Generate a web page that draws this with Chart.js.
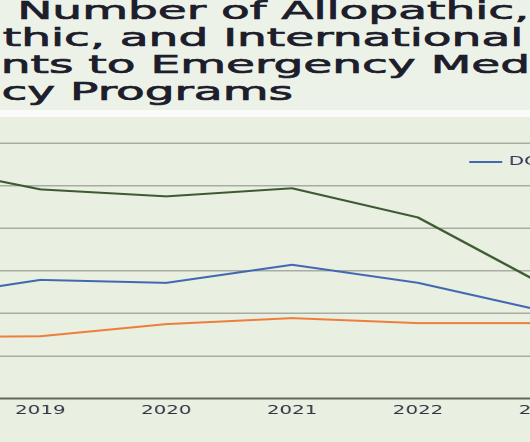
<!DOCTYPE html>
<html>
<head>
<meta charset="utf-8">
<script src="https://cdn.jsdelivr.net/npm/chart.js@4.4.1/dist/chart.umd.min.js"></script>
<style>
  html, body { margin: 0; padding: 0; width: 530px; height: 442px; overflow: hidden; background: #edf2e8; }
  #title { position: absolute; left: 0; top: 0; width: 530px; height: 110px; overflow: hidden; background: #edf2e8; }
  #titleInner { position: absolute; left: 0; top: 0; transform-origin: 0 0; }
  .tl { position: absolute; white-space: nowrap; font-family: "DejaVu Sans"; font-size: 25px; line-height: 27px;
        color: #1d1d2b; -webkit-text-stroke: 0.7px #1d1d2b; }
  #strip { position: absolute; left: 0; top: 110px; width: 530px; height: 7px; background: #fbfcf9; }
  #panel { position: absolute; left: 0; top: 117px; width: 530px; height: 325px; overflow: hidden; background: #e9f0e1; }
  #wrap { position: absolute; top: 0; left: -119.3px; width: 525px; height: 325px; transform: scaleX(1.65); transform-origin: 0 0; }
</style>
</head>
<body>
<div id="title"><div id="titleInner"></div></div>
<div id="strip"></div>
<div id="panel"><div id="wrap"><canvas id="chart"></canvas></div></div>

<script>
// data
const years = [2018, 2019, 2020, 2021, 2022, 2023];
const doApplicants = [935, 1115, 1087, 1257, 1087, 822];
const mdApplicants = [2202, 1965, 1899, 1975, 1701, 1068];
const imgApplicants = [576, 586, 699, 756, 709, 709];
const yTicks = [0, 400, 800, 1200, 1600, 2000, 2400];

// title lines: [part that falls off the left edge, visible part]
const titleLines = [
  ["Figure 1. ", "Number of Allopathic,"],
  ["Osteopa", "thic, and International"],
  ["Applica", "nts to Emergency Medicine"],
  ["Residen", "cy Programs"],
];
const titleStarts = [17, 2, 1, 2];

// build the title, stretched like the reference
const inner = document.getElementById("titleInner");
const spans = titleLines.map(([pre, rest], i) => {
  const d = document.createElement("div");
  d.className = "tl";
  d.style.top = (-3 + i * 27) + "px";
  const p = document.createElement("span");
  p.textContent = pre;
  const r = document.createElement("span");
  r.textContent = rest;
  d.appendChild(p);
  d.appendChild(r);
  inner.appendChild(d);
  return { d, p, r };
});
const stretch = 521 / spans[1].r.offsetWidth;
inner.style.transform = `scaleX(${stretch})`;
spans.forEach(({ d, p }, i) => {
  d.style.left = (titleStarts[i] / stretch - p.offsetWidth) + "px";
});

// legend drawn as one row in the top right of the plot
const lineLegend = {
  id: "lineLegend",
  afterDatasetsDraw(chart) {
    const { ctx, chartArea } = chart;
    ctx.save();
    ctx.font = "12px 'DejaVu Sans'";
    ctx.textBaseline = "middle";
    const items = chart.data.datasets.map((ds) => ({ ds, w: 20 + 4 + ctx.measureText(ds.label).width }));
    let x = chartArea.right - items.reduce((s, it) => s + it.w + 10, 0);
    const y = chartArea.top + 19;
    items.forEach(({ ds, w }) => {
      ctx.strokeStyle = ds.borderColor;
      ctx.lineWidth = 2;
      ctx.beginPath();
      ctx.moveTo(x, y);
      ctx.lineTo(x + 20, y);
      ctx.stroke();
      ctx.fillStyle = "#33365a";
      ctx.fillText(ds.label, x + 24, y);
      x += w + 10;
    });
    ctx.restore();
  },
};

const pts = (vals) => vals.map((v, i) => ({ x: years[i], y: v }));

new Chart(document.getElementById("chart"), {
  type: "line",
  data: {
    datasets: [
      { label: "DO", data: pts(doApplicants), borderColor: "#4168b3", backgroundColor: "#4168b3" },
      { label: "MD", data: pts(mdApplicants), borderColor: "#3d5a32", backgroundColor: "#3d5a32" },
      { label: "IMG", data: pts(imgApplicants), borderColor: "#ef7d3c", backgroundColor: "#ef7d3c" },
    ],
  },
  plugins: [lineLegend],
  options: {
    responsive: true,
    maintainAspectRatio: false,
    animation: false,
    devicePixelRatio: 2,
    elements: {
      line: { borderWidth: 2, tension: 0 },
      point: { radius: 0 },
    },
    layout: { padding: { top: 26, bottom: 19, left: 5, right: 5 } },
    plugins: {
      title: { display: false },
      tooltip: { enabled: false },
      legend: { display: false },
    },
    scales: {
      x: {
        type: "linear",
        min: years[0],
        max: 2024.55,
        grid: { display: false, drawTicks: false },
        border: { display: true, color: "#62665d", width: 2 },
        ticks: {
          stepSize: 1,
          includeBounds: false,
          padding: 5,
          color: "#2e3546",
          font: { family: "DejaVu Sans", size: 12 },
          callback: (v) => (years.includes(v) ? String(v) : ""),
        },
      },
      y: {
        min: yTicks[0],
        max: yTicks[yTicks.length - 1],
        afterFit: (s) => { s.width = 0; },
        grid: { color: "#a9aca4", lineWidth: 1.5, drawTicks: false },
        border: { display: false },
        ticks: { display: false, stepSize: yTicks[1] - yTicks[0] },
      },
    },
  },
});
</script>
</body>
</html>
